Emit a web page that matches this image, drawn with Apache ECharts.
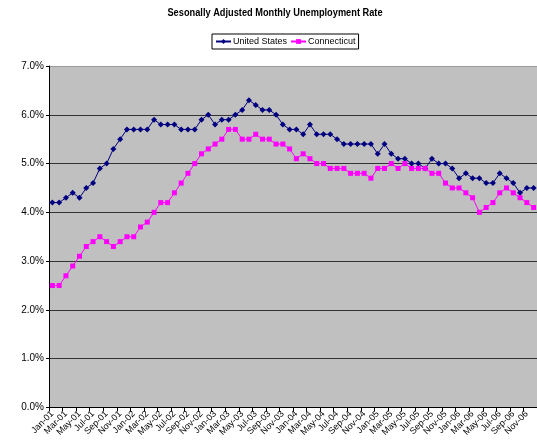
<!DOCTYPE html>
<html>
<head>
<meta charset="utf-8">
<script src="https://cdn.jsdelivr.net/npm/echarts@6/dist/echarts.min.js"></script>
<style>
html,body{margin:0;padding:0;background:#fff;}
#chart{width:537px;height:445px;}
</style>
</head>
<body>
<div id="chart"></div>
<script>
const years = ['01','02','03','04','05','06'];
const monthNames = ['Jan','Feb','Mar','Apr','May','Jun','Jul','Aug','Sep','Oct','Nov','Dec'];
const categories = [];
years.forEach(y => monthNames.forEach(m => categories.push(m + '-' + y)));

const unitedStates = [
  4.2,4.2,4.3,4.4,4.3,4.5,4.6,4.9,5.0,5.3,5.5,5.7,
  5.7,5.7,5.7,5.9,5.8,5.8,5.8,5.7,5.7,5.7,5.9,6.0,
  5.8,5.9,5.9,6.0,6.1,6.3,6.2,6.1,6.1,6.0,5.8,5.7,
  5.7,5.6,5.8,5.6,5.6,5.6,5.5,5.4,5.4,5.4,5.4,5.4,
  5.2,5.4,5.2,5.1,5.1,5.0,5.0,4.9,5.1,5.0,5.0,4.9,
  4.7,4.8,4.7,4.7,4.6,4.6,4.8,4.7,4.6,4.4,4.5,4.5
];
const connecticut = [
  2.5,2.5,2.7,2.9,3.1,3.3,3.4,3.5,3.4,3.3,3.4,3.5,
  3.5,3.7,3.8,4.0,4.2,4.2,4.4,4.6,4.8,5.0,5.2,5.3,
  5.4,5.5,5.7,5.7,5.5,5.5,5.6,5.5,5.5,5.4,5.4,5.3,
  5.1,5.2,5.1,5.0,5.0,4.9,4.9,4.9,4.8,4.8,4.8,4.7,
  4.9,4.9,5.0,4.9,5.0,4.9,4.9,4.9,4.8,4.8,4.6,4.5,
  4.5,4.4,4.3,4.0,4.1,4.2,4.4,4.5,4.4,4.3,4.2,4.1
];
const titleText = 'Sesonally Adjusted Monthly Unemployment Rate';

const FONT = '"Liberation Sans", Arial, sans-serif';
const chart = echarts.init(document.getElementById('chart'), null, {renderer: 'canvas'});
chart.setOption({
  backgroundColor: '#ffffff',
  animation: false,
  graphic: [{
    type: 'text',
    x: 275,
    y: 7,
    scaleX: 0.84,
    style: {
      text: titleText,
      font: 'bold 11px "Liberation Sans", Arial, sans-serif',
      fill: '#000',
      textAlign: 'center',
      textVerticalAlign: 'top'
    }
  }],
  legend: {
    top: 34,
    left: 212,
    borderColor: '#000',
    borderWidth: 1,
    padding: [3, 3, 3, 3],
    itemGap: 3,
    itemWidth: 15,
    itemHeight: 6,
    textStyle: {fontFamily: FONT, fontSize: 9, color: '#000', padding: [0, 0, 0, -3]},
    data: ['United States', 'Connecticut']
  },
  grid: {
    left: 49, top: 66, right: -2, bottom: 37.5,
    show: true,
    backgroundColor: '#C0C0C0',
    borderColor: '#C0C0C0',
    borderWidth: 0
  },
  xAxis: {
    type: 'category',
    data: categories,
    boundaryGap: true,
    axisLine: {lineStyle: {color: '#000', width: 1}},
    axisTick: {show: true, interval: 1, length: 4, lineStyle: {color: '#000'}},
    axisLabel: {
      interval: 1, rotate: 45, margin: 5,
      fontFamily: FONT, fontSize: 9, color: '#000'
    },
    splitLine: {show: false}
  },
  yAxis: {
    type: 'value',
    min: 0, max: 7, interval: 1,
    axisLine: {show: true, lineStyle: {color: '#000', width: 1}},
    axisTick: {show: true, length: 3, lineStyle: {color: '#000'}},
    axisLabel: {
      margin: 5, fontFamily: FONT, fontSize: 10, color: '#000',
      formatter: v => v.toFixed(1) + '%'
    },
    splitLine: {show: true, lineStyle: {color: ['#333','#333','#333','#333','#333','#333','#333','#999'], width: 1}}
  },
  series: [
    {
      name: 'United States',
      type: 'line',
      data: unitedStates,
      symbol: 'diamond',
      symbolSize: 6,
      showAllSymbol: true,
      lineStyle: {color: '#000080', width: 1},
      itemStyle: {color: '#000080'},
      emphasis: {disabled: true}
    },
    {
      name: 'Connecticut',
      type: 'line',
      data: connecticut,
      symbol: 'rect',
      symbolSize: 5,
      showAllSymbol: true,
      lineStyle: {color: '#FF00FF', width: 1},
      itemStyle: {color: '#FF00FF'},
      emphasis: {disabled: true}
    }
  ]
});
</script>
</body>
</html>
